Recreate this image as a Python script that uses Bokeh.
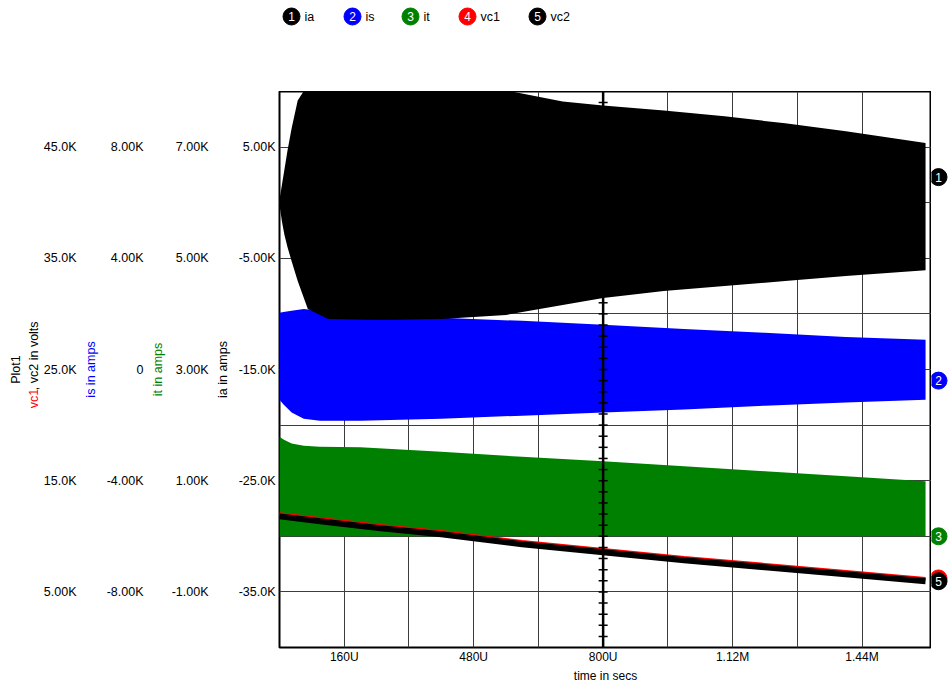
import math
from bokeh.plotting import figure
from bokeh.models import Range1d, LinearAxis, FixedTicker, Span
from bokeh.layouts import column, row
from bokeh.embed import file_html
from bokeh.resources import INLINE
from bokeh.core.properties import value

FONT = "Liberation Sans"

# ---------------- data (time in microseconds, values in thousands) ----------------
# ia : oscillation envelope (upper / lower), in kA
t_ia = [0, 6, 12, 20, 30, 45, 70, 120, 250, 400, 560, 700, 800, 950, 1100, 1250, 1400, 1597]
ia_upper = [0.27, 1.61, 2.95, 4.73, 6.70, 9.20, 10.6, 11.0, 11.0, 10.8, 10.1, 9.11, 8.75, 8.30, 7.77, 7.14, 6.43, 5.36]
ia_lower = [-0.18, -1.70, -2.86, -4.02, -5.27, -7.05, -9.55, -10.45, -10.54, -10.45, -10.09, -9.20, -8.57, -7.95, -7.50, -7.05, -6.60, -6.07]

# is and it : oscillation envelopes, in kA
t_is = [0, 10, 30, 60, 100, 200, 400, 600, 800, 1000, 1200, 1400, 1597]
is_upper = [2.04, 2.07, 2.11, 2.18, 2.11, 1.96, 1.86, 1.75, 1.61, 1.46, 1.32, 1.17, 1.07]
is_lower = [-1.09, -1.26, -1.55, -1.77, -1.84, -1.84, -1.77, -1.66, -1.55, -1.44, -1.30, -1.19, -1.09]
it_upper = [1.79, 1.74, 1.67, 1.63, 1.61, 1.60, 1.52, 1.43, 1.35, 1.26, 1.17, 1.08, 0.99]
it_lower = [0.0, 0.0, 0.0, 0.0, 0.0, 0.0, 0.0, 0.0, 0.0, 0.0, 0.0, 0.0, 0.0]

# vc1, vc2 : capacitor voltages, in kV
t_vc = [0, 100, 250, 400, 600, 800, 1000, 1200, 1400, 1597]
vc1 = [12.04, 11.60, 10.97, 10.43, 9.53, 8.82, 8.10, 7.47, 6.84, 6.21]
vc2 = [11.79, 11.35, 10.72, 10.18, 9.28, 8.57, 7.85, 7.22, 6.59, 5.96]

# final values of each trace (curve-end markers)
end_names = ["1", "2", "3", "4", "5"]
end_values = [2.3, -0.4, 0.0, 6.21, 5.96]
end_ranges = ["default", "is", "it", "vc", "vc"]

series_names = ["ia", "is", "it", "vc1", "vc2"]
series_colors = ["#000000", "#0000ff", "#008000", "#ff0000", "#000000"]

# axis ticks and labels
x_ticks = [160, 480, 800, 1120, 1440]
x_labels = ["160U", "480U", "800U", "1.12M", "1.44M"]
x_grid = [160, 320, 480, 640, 800, 960, 1120, 1280, 1440]
ia_ticks = [5, -5, -15, -25, -35]
ia_labels = ["5.00K", "-5.00K", "-15.0K", "-25.0K", "-35.0K"]
it_ticks = [7, 5, 3, 1, -1]
it_labels = ["7.00K", "5.00K", "3.00K", "1.00K", "-1.00K"]
is_ticks = [8, 4, 0, -4, -8]
is_labels = ["8.00K", "4.00K", "0", "-4.00K", "-8.00K"]
vc_ticks = [45, 35, 25, 15, 5]
vc_labels = ["45.0K", "35.0K", "25.0K", "15.0K", "5.00K"]
y_grid = [5, 0, -5, -10, -15, -20, -25, -30, -35]
center_ticks = list(range(-39, 10))

LEFT_STRIP = 40

# ---------------- main plot ----------------
p = figure(width=931 - LEFT_STRIP, height=594, output_backend="svg", toolbar_location=None,
           x_range=Range1d(0, 1611.7), y_range=Range1d(-40, 10),
           min_border_left=279 - LEFT_STRIP, min_border_right=0, min_border_top=0, min_border_bottom=34)
p.extra_y_ranges = {"is": Range1d(-10, 10), "it": Range1d(-2, 8), "vc": Range1d(0, 50)}
p.background_fill_color = "white"
p.border_fill_color = "white"
p.outline_line_color = "black"
p.outline_line_width = 2

p.xgrid.ticker = FixedTicker(ticks=x_grid)
p.ygrid.ticker = FixedTicker(ticks=y_grid)
for g in (p.xgrid, p.ygrid):
    g.grid_line_color = "#3c3c3c"
    g.grid_line_width = 1


def style_axis(ax, ticks, labels, label_color):
    ax.ticker = FixedTicker(ticks=ticks)
    ax.major_label_overrides = {t: l for t, l in zip(ticks, labels)}
    ax.axis_line_color = None
    ax.major_tick_line_color = None
    ax.minor_tick_line_color = None
    ax.major_tick_out = 0
    ax.major_tick_in = 0
    ax.minor_tick_out = 0
    ax.minor_tick_in = 0
    ax.major_label_text_font = FONT
    ax.major_label_text_font_size = "12.5px"
    ax.major_label_text_color = "black"
    ax.axis_label_text_font = FONT
    ax.axis_label_text_font_size = "12.5px"
    ax.axis_label_text_font_style = "normal"
    ax.axis_label_text_color = label_color


ax_ia = p.yaxis[0]
style_axis(ax_ia, ia_ticks, ia_labels, "black")
ax_ia.axis_label = "ia in amps"
ax_ia.major_label_standoff = 4
ax_ia.axis_label_standoff = 6

ax_it = LinearAxis(y_range_name="it")
style_axis(ax_it, it_ticks, it_labels, "#008000")
ax_it.axis_label = "it in amps"
ax_it.major_label_standoff = 4
ax_it.axis_label_standoff = 4
p.add_layout(ax_it, "left")

ax_is = LinearAxis(y_range_name="is")
style_axis(ax_is, is_ticks, is_labels, "#0000ff")
ax_is.axis_label = "is in amps"
ax_is.major_label_standoff = 4
ax_is.axis_label_standoff = 6
p.add_layout(ax_is, "left")

ax_vc = LinearAxis(y_range_name="vc")
style_axis(ax_vc, vc_ticks, vc_labels, "black")
ax_vc.major_label_standoff = 4
p.add_layout(ax_vc, "left")

ax_x = p.xaxis[0]
style_axis(ax_x, x_ticks, x_labels, "black")
ax_x.major_label_text_font_size = "12px"
ax_x.axis_label_text_font_size = "12px"
ax_x.axis_label = "time in secs"
ax_x.major_label_standoff = 2
ax_x.axis_label_standoff = 2

# traces
p.varea(x=t_is, y1=is_lower, y2=is_upper, color=series_colors[1], y_range_name="is")
p.varea(x=t_is, y1=it_lower, y2=it_upper, color=series_colors[2], y_range_name="it")
p.varea(x=t_ia, y1=ia_lower, y2=ia_upper, color=series_colors[0])
p.line(x=t_vc, y=vc1, color=series_colors[3], line_width=3, y_range_name="vc")
p.line(x=t_vc, y=vc2, color=series_colors[4], line_width=6, y_range_name="vc")

# centre axis with small ticks
p.add_layout(Span(location=800, dimension="height", line_color="black", line_width=2.5))
p.scatter(x=[800] * len(center_ticks), y=center_ticks, marker="dash", size=9,
          line_color="black", line_width=1.5)

# ---------------- left strip: plot name and vc axis title (mixed colours) ----------------
lft = figure(width=LEFT_STRIP, height=594, output_backend="svg", toolbar_location=None,
             x_range=Range1d(0, LEFT_STRIP), y_range=Range1d(0, 594),
             x_axis_location=None, y_axis_location=None, min_border=0)
lft.outline_line_color = None
lft.xgrid.visible = False
lft.ygrid.visible = False
txt_kw = dict(angle=math.pi / 2, text_font=value(FONT), text_font_size="12.5px", text_baseline="middle")
lft.text(x=[15], y=[297], text=["Plot1"], text_align="center", text_color="black", **txt_kw)
lft.text(x=[33], y=[255.5], text=["vc1"], text_align="left", text_color="#ff0000", **txt_kw)
lft.text(x=[33], y=[274.9], text=[", vc2 in volts"], text_align="left", text_color="black", **txt_kw)

# ---------------- curve-end markers (right strip) ----------------
r = figure(width=17, height=594, output_backend="svg", toolbar_location=None,
           x_range=Range1d(0, 17), y_range=p.y_range,
           x_axis_location=None, y_axis_location=None,
           min_border_left=0, min_border_right=0, min_border_top=0, min_border_bottom=34)
r.extra_y_ranges = p.extra_y_ranges
r.outline_line_color = None
r.xgrid.visible = False
r.ygrid.visible = False
for i in [0, 1, 2, 3, 4]:
    r.scatter(x=[7], y=[end_values[i]], size=17, color=series_colors[i], y_range_name=end_ranges[i])
    r.text(x=[7], y=[end_values[i]], text=[end_names[i]], y_range_name=end_ranges[i],
           text_color="white", text_align="center", text_baseline="middle",
           text_font=value(FONT), text_font_size="12px")

# ---------------- legend strip ----------------
legend_x = [291, 352, 410, 467, 537]
leg = figure(width=948, height=91, output_backend="svg", toolbar_location=None,
             x_range=Range1d(0, 948), y_range=Range1d(91, 0),
             x_axis_location=None, y_axis_location=None, min_border=0)
leg.outline_line_color = None
leg.xgrid.visible = False
leg.ygrid.visible = False
leg.scatter(x=legend_x, y=[16] * 5, size=17, color=series_colors)
leg.text(x=legend_x, y=[16] * 5, text=end_names, text_color="white", text_align="center",
         text_baseline="middle", text_font=value(FONT), text_font_size="12px")
leg.text(x=[v + 13 for v in legend_x], y=[16] * 5, text=series_names, text_color="black",
         text_align="left", text_baseline="middle", text_font=value(FONT), text_font_size="12.5px")

layout = column(leg, row(lft, p, r))
open("out.html", "w").write(file_html(layout, INLINE))
